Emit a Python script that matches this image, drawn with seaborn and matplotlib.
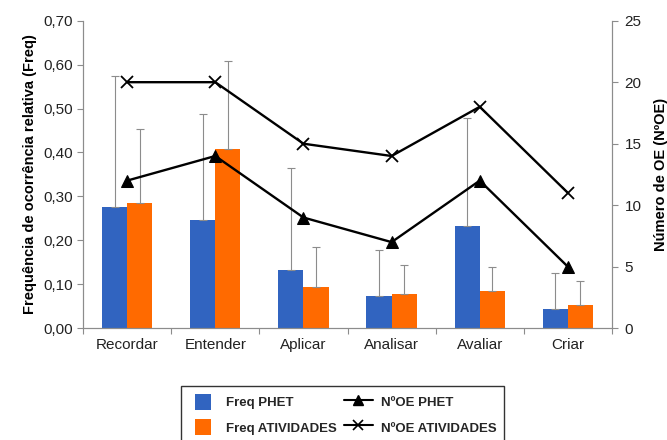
import numpy as np
import pandas as pd
import matplotlib
matplotlib.use("Agg")
import matplotlib.pyplot as plt
from matplotlib.ticker import FuncFormatter, FixedLocator, NullFormatter
from matplotlib.lines import Line2D
from matplotlib.patches import Patch, Rectangle
from matplotlib.legend_handler import HandlerPatch
import seaborn as sns

# ─────────────────────────────────────────────
# DATA
# ─────────────────────────────────────────────
niveis = ["Recordar", "Entender", "Aplicar", "Analisar", "Avaliar", "Criar"]

freq_phet = [0.275, 0.246, 0.132, 0.074, 0.233, 0.044]
freq_ativ = [0.286, 0.409, 0.094, 0.077, 0.085, 0.053]

# top of the (upper only) error bars
err_top_phet = [0.574, 0.487, 0.364, 0.178, 0.478, 0.125]
err_top_ativ = [0.453, 0.608, 0.184, 0.143, 0.140, 0.108]

noe_phet = [12, 14, 9, 7, 12, 5]
noe_ativ = [20, 20, 15, 14, 18, 11]

# ─────────────────────────────────────────────
# STYLE
# ─────────────────────────────────────────────
sns.set_theme(style="white")
plt.rcParams["font.family"] = ["Liberation Sans", "DejaVu Sans"]

blue = "#3164C0"
orange = "#FF6A00"
grey = "#8C8C8C"
txt = "#222222"


# square legend keys for the bars, pushed towards the label
class SquareHandler(HandlerPatch):
    def create_artists(self, legend, orig_handle, xdescent, ydescent,
                       width, height, fontsize, trans):
        s = height * 1.0
        r = Rectangle((-xdescent + width * 0.2, -ydescent + (height - s) / 2), s, s,
                      facecolor=orig_handle.get_facecolor(), edgecolor="none",
                      transform=trans)
        return [r]


df = pd.DataFrame({
    "nivel": niveis * 2,
    "freq": freq_phet + freq_ativ,
    "serie": ["Freq PHET"] * len(niveis) + ["Freq ATIVIDADES"] * len(niveis),
})

fig = plt.figure(figsize=(6.67, 4.4), dpi=100)
ax = fig.add_axes([0.1245, 0.254, 0.793, 0.699])

sns.barplot(data=df, x="nivel", y="freq", hue="serie",
            palette=[blue, orange], width=0.57, saturation=1,
            linewidth=0, legend=False, ax=ax)

# upper error bars, placed on the bars seaborn drew
for cont, tops, vals in zip(ax.containers, [err_top_phet, err_top_ativ], [freq_phet, freq_ativ]):
    xs = [b.get_x() + b.get_width() / 2 for b in cont]
    up = np.array(tops) - np.array(vals)
    ax.errorbar(xs, vals, yerr=[np.zeros(len(up)), up], fmt="none",
                ecolor=grey, elinewidth=0.8, capsize=3, capthick=0.8, zorder=3)

ax.set_ylim(0, 0.70)
ax.set_xlim(-0.5, len(niveis) - 0.5)
ax.yaxis.set_major_locator(FixedLocator(np.arange(0, 0.71, 0.10)))
ax.yaxis.set_major_formatter(FuncFormatter(lambda v, p: f"{v:.2f}".replace(".", ",")))
ax.set_xlabel("")
ax.set_ylabel("Frequência de ocorrência relativa (Freq)", fontsize=10.5,
              fontweight="bold", color="black", labelpad=5)
ax.tick_params(axis="y", labelsize=11, colors=grey, labelcolor=txt,
               length=4, width=0.8, direction="out", left=True, pad=3)
ax.tick_params(axis="x", labelsize=11, labelcolor=txt, length=0, pad=7)
ax.xaxis.set_minor_locator(FixedLocator(np.arange(-0.5, len(niveis), 1.0)))
ax.xaxis.set_minor_formatter(NullFormatter())
ax.tick_params(axis="x", which="minor", length=4, width=0.8, color=grey, bottom=True)

for side in ["left", "right", "bottom"]:
    ax.spines[side].set_color(grey)
    ax.spines[side].set_linewidth(0.8)
ax.spines["top"].set_visible(False)

# ─────────────────────────────────────────────
# SECOND AXIS: number of OE
# ─────────────────────────────────────────────
ax2 = ax.twinx()
x_pos = np.arange(len(niveis))
sns.lineplot(x=x_pos, y=noe_phet, color="black", linewidth=1.7,
             marker="^", markersize=8, markeredgecolor="black", ax=ax2)
sns.lineplot(x=x_pos, y=noe_ativ, color="black", linewidth=1.7,
             marker="x", markersize=8, markeredgewidth=1.3,
             markeredgecolor="black", ax=ax2)
ax2.set_ylim(0, 25)
ax2.yaxis.set_major_locator(FixedLocator(range(0, 26, 5)))
ax2.set_ylabel("Número de OE (NºOE)", fontsize=10.5, fontweight="bold",
               color="black", labelpad=9)
ax2.tick_params(axis="y", labelsize=11, colors=grey, labelcolor=txt,
                length=4, width=0.8, direction="out", right=True, pad=5)
ax2.grid(False)
ax.grid(False)
for side in ["left", "right", "bottom"]:
    ax2.spines[side].set_color(grey)
    ax2.spines[side].set_linewidth(0.8)
ax2.spines["top"].set_visible(False)

# ─────────────────────────────────────────────
# LEGEND
# ─────────────────────────────────────────────
handles = [
    Patch(facecolor=blue, edgecolor="none"),
    Patch(facecolor=orange, edgecolor="none"),
    Line2D([], [], color="black", linewidth=1.5, marker="^", markersize=7),
    Line2D([], [], color="black", linewidth=1.5, marker="x", markersize=7,
           markeredgewidth=1.2, markeredgecolor="black"),
]
labels = ["Freq PHET", "Freq ATIVIDADES", "NºOE PHET", "NºOE ATIVIDADES"]
leg = fig.legend(handles, labels, ncol=2, loc="upper center",
                 bbox_to_anchor=(0.514, 0.138), frameon=True, fancybox=False,
                 prop={"weight": "bold", "size": 9.5}, handlelength=2.2,
                 handleheight=1.5, columnspacing=0.5, handletextpad=0.6,
                 borderpad=0.6, labelspacing=0.7,
                 handler_map={Patch: SquareHandler()})
leg.get_frame().set_edgecolor("black")
leg.get_frame().set_linewidth(1.0)

fig.savefig("out.png", dpi=100)
